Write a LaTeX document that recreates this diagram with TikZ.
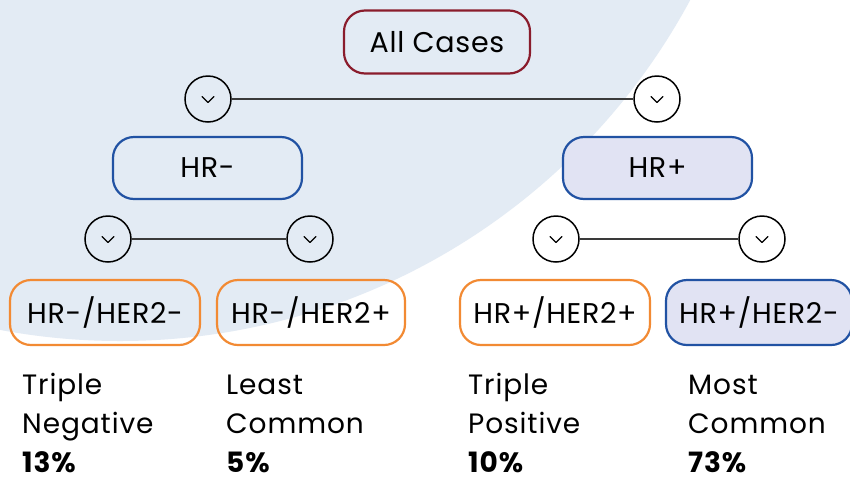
\documentclass[tikz,border=0pt]{standalone}
\usepackage{fontspec}
\setmainfont{Poppins}
\newfontfamily\boxfont[LetterSpace=2.5]{Poppins}
\newfontfamily\capfont[LetterSpace=3.2]{Poppins}
\definecolor{bgblue}{HTML}{E3EBF4}
\definecolor{rootred}{HTML}{8A1C2C}
\definecolor{hrblue}{HTML}{2152A3}
\definecolor{leaforange}{HTML}{F28A33}
\definecolor{lavender}{HTML}{E1E3F3}
\definecolor{linkgray}{HTML}{3A3A3A}
\begin{document}
\begin{tikzpicture}[x=1pt,y=-1pt,
  box/.style={draw, line width=2.2pt, rounded corners=21pt, inner sep=0pt,
    font=\boxfont\fontsize{28.5}{32}\selectfont, text=black},
  rootbox/.style={box, draw=rootred, minimum width=186pt, minimum height=63pt},
  hrbox/.style={box, draw=hrblue, minimum width=189pt, minimum height=62pt},
  leafbox/.style={box, draw=leaforange, minimum width=190pt, minimum height=65pt},
  toggle/.style={circle, draw=black, line width=1.5pt, minimum size=46pt, inner sep=0pt,
    path picture={\draw[line width=1.3pt, line cap=round, line join=round]
      ([xshift=-6pt,yshift=2.5pt]path picture bounding box.center) --
      ([yshift=-3.5pt]path picture bounding box.center) --
      ([xshift=6pt,yshift=2.5pt]path picture bounding box.center);}},
  link/.style={draw=linkgray, line width=1.4pt},
  caption/.style={anchor=base west, align=left, inner sep=0pt,
    font=\capfont\fontsize{28}{39}\selectfont, text=black}
]
\useasboundingbox (0,0) rectangle (850,480);
\clip (0,0) rectangle (850,480);
\fill[white] (0,0) rectangle (850,480);
% large pale disc behind the left part of the tree
\fill[bgblue] (120,-306) circle (647);

% root
\node[rootbox] (root) at (437,42) {All Cases};

% first split
\node[toggle] (tl) at (208,99) {};
\node[toggle] (tr) at (657,99) {};
\draw[link] (tl) -- (tr);

\node[hrbox] (hrneg) at (207.5,168) {HR-};
\node[hrbox, fill=lavender] (hrpos) at (657.5,168) {HR+};

% second split
\node[toggle] (nl) at (108,239) {};
\node[toggle] (nr) at (310,239) {};
\draw[link] (nl) -- (nr);
\node[toggle] (pl) at (556,239) {};
\node[toggle] (pr) at (762,239) {};
\draw[link] (pl) -- (pr);

% subtypes
\node[leafbox] (tn) at (105,312.5) {HR-/HER2-};
\node[leafbox, minimum width=188pt] (lc) at (311,312.5) {HR-/HER2+};
\node[leafbox, fill=white] (tp) at (555,312.5) {HR+/HER2+};
\node[box, draw=hrblue, fill=lavender, minimum width=186pt, minimum height=65pt] (mc) at (759,312.5) {HR+/HER2-};

% captions (anchored on the baseline of the last line)
\node[caption] (ctn) at (22,472) {Triple\\Negative\\\textbf{13\%}};
\node[caption] (clc) at (226,472) {Least\\Common\\\textbf{5\%}};
\node[caption] (ctp) at (468,472) {Triple\\Positive\\\textbf{10\%}};
\node[caption] (cmc) at (688,472) {Most\\Common\\\textbf{73\%}};
\end{tikzpicture}
\end{document}
